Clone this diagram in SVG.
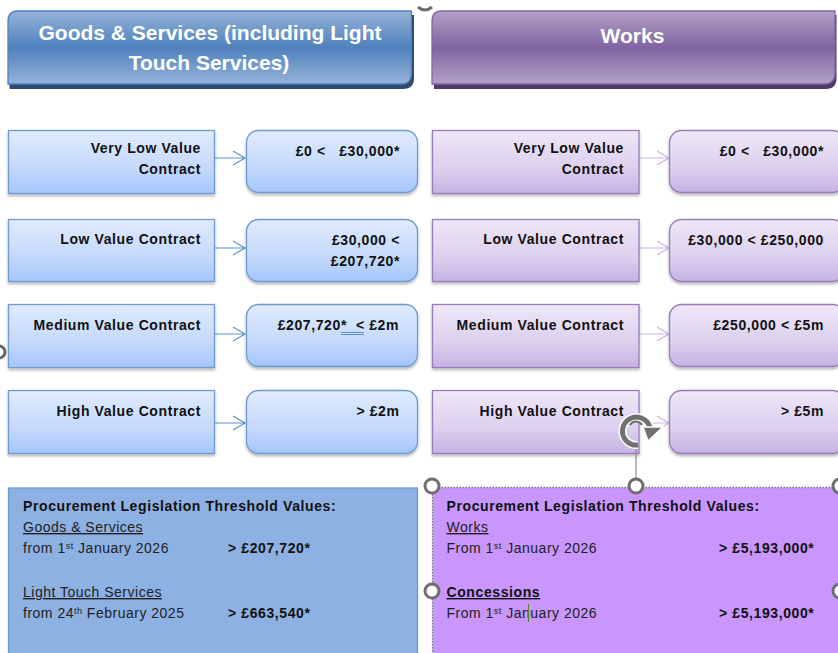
<svg xmlns="http://www.w3.org/2000/svg" width="838" height="653" viewBox="0 0 838 653">
<style>
text{font-family:"Liberation Sans",Arial,sans-serif;font-size:14px;fill:#111}
.b{font-weight:700;letter-spacing:.6px}
.r{text-anchor:end}
.n{fill:#222;letter-spacing:.5px}
.u{text-decoration:underline}
.h{font-size:21px;font-weight:700;fill:#fff;text-anchor:middle}
.sb{stroke:#6f9bcf;stroke-width:1.3;fill:url(#gb);filter:url(#sh)}
.sp{stroke:#9a7bb8;stroke-width:1.3;fill:url(#gp);filter:url(#sh)}
.ab{stroke:#5f93cf;stroke-width:1.2;fill:none}
.ap{stroke:#c9b3de;stroke-width:1.2;fill:none}
.hd{fill:#fff;stroke:#6e6e6e;stroke-width:3}
.s{font-size:9px}
</style>
<defs>
<linearGradient id="gb" x1="0" y1="0" x2="0" y2="1"><stop offset="0" stop-color="#e0ebfe"/><stop offset=".6" stop-color="#c4d9fc"/><stop offset="1" stop-color="#a4c6fb"/></linearGradient>
<linearGradient id="gp" x1="0" y1="0" x2="0" y2="1"><stop offset="0" stop-color="#efe7f8"/><stop offset=".6" stop-color="#dcd0ee"/><stop offset="1" stop-color="#c6b2e3"/></linearGradient>
<linearGradient id="hb" x1="0" y1="0" x2="0" y2="1"><stop offset="0" stop-color="#95b3d7"/><stop offset=".5" stop-color="#4f81bd"/><stop offset="1" stop-color="#95b3d7"/></linearGradient>
<linearGradient id="hp" x1="0" y1="0" x2="0" y2="1"><stop offset="0" stop-color="#b2a1c7"/><stop offset=".5" stop-color="#8064a2"/><stop offset="1" stop-color="#b2a1c7"/></linearGradient>
<filter id="sh" x="-5%" y="-5%" width="110%" height="120%"><feDropShadow dx="0" dy="2" stdDeviation="1.5" flood-color="#000" flood-opacity=".3"/></filter>
</defs>

<g id="connectors">
<path class="ab" d="M215 158H245M233 151L245 158L233 165"/>
<path class="ab" d="M215 248H245M233 241L245 248L233 255"/>
<path class="ab" d="M215 334H245M233 327L245 334L233 341"/>
<path class="ab" d="M215 423H245M233 416L245 423L233 430"/>
<path class="ap" d="M639 158H669M657 151L669 158L657 165"/>
<path class="ap" d="M639 248H669M657 241L669 248L657 255"/>
<path class="ap" d="M639 334H669M657 327L669 334L657 341"/>
<path class="ap" d="M639 423H669M657 416L669 423L657 430"/>
</g>

<g id="header-goods">
<path d="M9.500 15H414V78Q414 89 403 89H9.500Z" fill="#2c4a70"/>
<path d="M18 11H411.500V73Q411.500 84 401 84H8V21Q8 11 18 11Z" fill="url(#hb)" stroke="#4f81bd" stroke-width="1.300"/>
<text class="h" x="210" y="40">Goods &amp; Services (including Light</text>
<text class="h" x="209" y="70">Touch Services)</text>
</g>
<g id="header-works">
<path d="M434 15H836.500V78Q836.500 89 826 89H434Z" fill="#4f3a68"/>
<path d="M442 11H835V73Q835 84 824 84H432V21Q432 11 442 11Z" fill="url(#hp)" stroke="#8064a2" stroke-width="1.300"/>
<text class="h" x="632.500" y="43">Works</text>
</g>

<g id="goods-vlow-label"><rect class="sb" x="8.500" y="130.500" width="206" height="63"/><text class="b r" x="201" y="153">Very Low Value</text><text class="b r" x="201" y="174">Contract</text></g>
<g id="goods-vlow-value"><rect class="sb" x="246.500" y="130.500" width="171" height="62" rx="12"/><text class="b r" x="400" y="156" xml:space="preserve">£0 &lt;   £30,000*</text></g>
<g id="goods-low-label"><rect class="sb" x="8.500" y="219.500" width="206" height="62"/><text class="b r" x="201" y="244">Low Value Contract</text></g>
<g id="goods-low-value"><rect class="sb" x="246.500" y="219.500" width="171" height="62" rx="12"/><text class="b r" x="400" y="245">£30,000 &lt;</text><text class="b r" x="400" y="266">£207,720*</text></g>
<g id="goods-med-label"><rect class="sb" x="8.500" y="304.500" width="206" height="63"/><text class="b r" x="201" y="330">Medium Value Contract</text></g>
<g id="goods-med-value"><rect class="sb" x="246.500" y="304.500" width="171" height="62" rx="12"/><text class="b r" x="399" y="330" xml:space="preserve">£207,720*  &lt; £2m</text><path d="M341 332.500H364M341 334.500H364" stroke="#5f8fd8" fill="none"/></g>
<g id="goods-high-label"><rect class="sb" x="8.500" y="390.500" width="206" height="63"/><text class="b r" x="201" y="416">High Value Contract</text></g>
<g id="goods-high-value"><rect class="sb" x="246.500" y="390.500" width="171" height="63" rx="12"/><text class="b r" x="399.500" y="416">&gt; £2m</text></g>

<g id="works-vlow-label"><rect class="sp" x="432.500" y="130.500" width="206.500" height="63"/><text class="b r" x="624" y="153">Very Low Value</text><text class="b r" x="624" y="174">Contract</text></g>
<g id="works-vlow-value"><rect class="sp" x="669.500" y="130.500" width="175" height="62" rx="12"/><text class="b r" x="824" y="156" xml:space="preserve">£0 &lt;   £30,000*</text></g>
<g id="works-low-label"><rect class="sp" x="432.500" y="219.500" width="206.500" height="62"/><text class="b r" x="624" y="244">Low Value Contract</text></g>
<g id="works-low-value"><rect class="sp" x="669.500" y="219.500" width="175" height="62" rx="12"/><text class="b r" x="824" y="245">£30,000 &lt; £250,000</text></g>
<g id="works-med-label"><rect class="sp" x="432.500" y="304.500" width="206.500" height="63"/><text class="b r" x="624" y="330">Medium Value Contract</text></g>
<g id="works-med-value"><rect class="sp" x="669.500" y="304.500" width="175" height="62" rx="12"/><text class="b r" x="824" y="330">£250,000 &lt; £5m</text></g>
<g id="works-high-label"><rect class="sp" x="432.500" y="390.500" width="206.500" height="63"/><text class="b r" x="624" y="416">High Value Contract</text></g>
<g id="works-high-value"><rect class="sp" x="669.500" y="390.500" width="175" height="63" rx="12"/><text class="b r" x="824" y="416">&gt; £5m</text></g>

<g id="goods-panel">
<rect x="8.500" y="488" width="409" height="170" fill="#8db1e2" stroke="#6c9bd0" stroke-width="1.300"/>
<text class="b" x="23" y="511">Procurement Legislation Threshold Values:</text>
<text class="n u" x="23" y="532">Goods &amp; Services</text>
<text class="n" x="23" y="553">from 1<tspan class="s" dy="-4">st</tspan><tspan dy="4"> January 2026</tspan></text>
<text class="b" x="228" y="553">&gt; £207,720*</text>
<text class="n u" x="23" y="597">Light Touch Services</text>
<text class="n" x="23" y="618">from 24<tspan class="s" dy="-4">th</tspan><tspan dy="4"> February 2025</tspan></text>
<text class="b" x="228" y="618">&gt; £663,540*</text>
</g>

<g id="works-panel">
<rect x="432.500" y="487.500" width="410" height="170" fill="#c896fc" stroke="#777" stroke-dasharray="1.500 1.500" stroke-width="1.300"/>
<text class="b" x="446.500" y="511">Procurement Legislation Threshold Values:</text>
<text class="n u" x="446.500" y="532">Works</text>
<text class="n" x="446.500" y="553">From 1<tspan class="s" dy="-4">st</tspan><tspan dy="4"> January 2026</tspan></text>
<text class="b" x="719" y="553">&gt; £5,193,000*</text>
<text class="b u" x="446.500" y="597">Concessions</text>
<text class="n" x="446.500" y="618">From 1<tspan class="s" dy="-4">st</tspan><tspan dy="4"> January 2026</tspan></text>
<text class="b" x="719" y="618">&gt; £5,193,000*</text>
<path d="M528.500 604V622" stroke="#4f8a1f" stroke-width="1"/>
</g>

<g id="selection-handles">
<path d="M636 445V486" stroke="#8a8a8a" stroke-width="1.200"/>
<circle class="hd" cx="432" cy="486" r="7"/>
<circle class="hd" cx="636" cy="486" r="7"/>
<circle class="hd" cx="840" cy="486" r="7"/>
<circle class="hd" cx="432" cy="591" r="7"/>
<circle class="hd" cx="840" cy="591" r="7"/>
<path d="M418 7Q425 13 432 7" fill="none" stroke="#6e6e6e" stroke-width="3"/>
<circle cx="-1" cy="352" r="6" fill="none" stroke="#666" stroke-width="3"/>
<path d="M648 439A14 14 0 1 0 638 445" fill="none" stroke="#fff" stroke-width="8"/>
<path d="M648 439A14 14 0 1 0 638 445" fill="none" stroke="#707070" stroke-width="5"/>
<path d="M630 425A7 7 0 0 1 642 425" fill="none" stroke="#707070" stroke-width="2"/>
<path d="M643 427H663L648 441Z" fill="#707070" stroke="#fff" stroke-width="1.500"/>
</g>
</svg>
